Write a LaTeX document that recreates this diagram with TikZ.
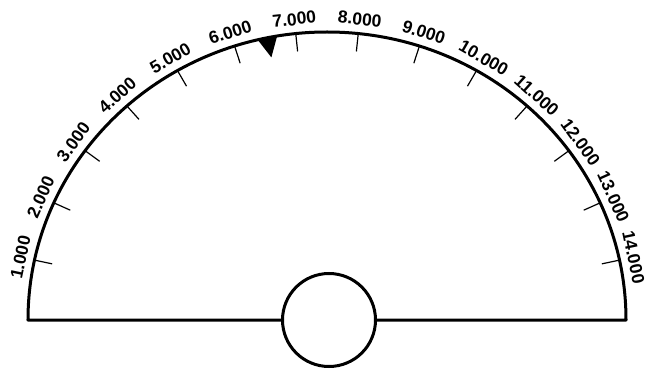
\documentclass[tikz,border=0pt]{standalone}
\usepackage{fontspec}
\setmainfont{Liberation Sans}

\begin{document}
\begin{tikzpicture}[x=1pt, y=1pt,
    dialline/.style={line width=3pt, line join=round},
    tickline/.style={line width=1.2pt},
    scalelbl/.style={font=\fontsize{17.5}{17.5}\selectfont\bfseries, inner sep=0pt, anchor=south}]

  \useasboundingbox (-327,-55) rectangle (325,320);

  % -- Dial outline --
  \coordinate (lend) at (-299,0);
  \coordinate (rend) at (299,0);
  \node[circle, draw, line width=3pt, fill=white, minimum size=93pt, inner sep=0pt] (hub) at (2,0) {};
  \draw[dialline] (hub.west) -- (lend) arc[start angle=180, end angle=0, x radius=299, y radius=288] -- (hub.east);

  % -- Scale ticks and values --
  \foreach \k in {1,...,14} {
    \pgfmathsetmacro{\t}{180-12*\k}
    \draw[tickline] ({299*cos(\t)},{288*sin(\t)}) -- ({281*cos(\t)},{270*sin(\t)});
    \node[scalelbl, rotate=\t-90] (val\k) at ({307*cos(\t)},{296*sin(\t)}) {\k.000};
  }

  % -- Pointer mark --
  \fill ({299*cos(99.6)},{288*sin(99.6)}) -- ({299*cos(103.4)},{288*sin(103.4)})
        -- ({279*cos(101.5)},{268*sin(101.5)}) -- cycle;

\end{tikzpicture}
\end{document}
